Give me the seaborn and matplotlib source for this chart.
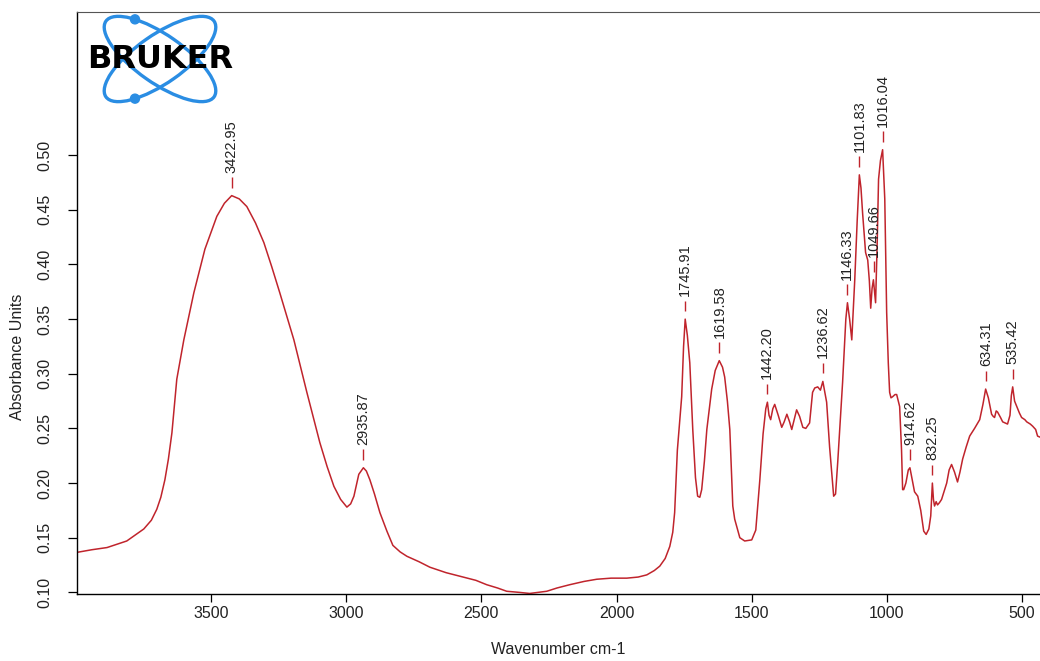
import numpy as np
import pandas as pd
import matplotlib
matplotlib.use("Agg")
import matplotlib.pyplot as plt
from matplotlib.patches import Ellipse, Circle
import seaborn as sns

# ---------------- data ----------------
wavenumber = [
    3995, 3940, 3884, 3811, 3748, 3720, 3700, 3685, 3670, 3657, 3644, 3626, 3600,
    3563, 3522, 3478, 3450, 3423, 3395, 3367, 3335, 3304, 3275, 3245, 3193, 3145,
    3097, 3070, 3045, 3020, 2997, 2983, 2971, 2953, 2936, 2925, 2912, 2895, 2875,
    2849, 2827, 2800, 2775, 2730, 2690, 2630, 2568, 2520, 2480, 2440, 2406, 2360,
    2321, 2290, 2258, 2220, 2173, 2120, 2073, 2020, 1962, 1920, 1888, 1860, 1840,
    1820, 1803, 1792, 1785, 1775, 1759, 1752, 1746, 1738, 1729, 1718, 1708, 1700,
    1692, 1685, 1675, 1666, 1648, 1635, 1620, 1608, 1600, 1590, 1581, 1570, 1563,
    1544, 1526, 1500, 1485, 1470, 1458, 1448, 1442, 1436, 1430, 1422, 1415, 1402,
    1389, 1380, 1370, 1360, 1352, 1343, 1334, 1323, 1311, 1300, 1286, 1275, 1267,
    1256, 1246, 1237, 1223, 1212, 1197, 1190, 1182, 1164, 1152, 1146, 1138, 1130,
    1119, 1110, 1102, 1096, 1090, 1079, 1071, 1065, 1060, 1055, 1050, 1046, 1042,
    1036, 1031, 1024, 1016, 1008, 1001, 995, 990, 985, 979, 970, 964, 953, 946,
    942, 938, 930, 921, 915, 908, 898, 886, 875, 864, 855, 845, 838, 832, 828,
    824, 818, 813, 806, 798, 789, 779, 770, 761, 750, 739, 730, 720, 707, 694,
    676, 657, 645, 635, 625, 613, 607, 602, 596, 591, 580, 572, 563, 554, 545,
    540, 535, 528, 520, 510, 502, 490, 483, 470, 461, 450, 443, 434,
]
absorbance = [
    0.1366, 0.139, 0.141, 0.147, 0.158, 0.166, 0.176, 0.187, 0.203, 0.222, 0.246, 0.295, 0.331,
    0.374, 0.414, 0.444, 0.456, 0.463, 0.460, 0.453, 0.438, 0.420, 0.398, 0.374, 0.331, 0.283,
    0.237, 0.215, 0.197, 0.185, 0.178, 0.181, 0.188, 0.208, 0.214, 0.211, 0.203, 0.190, 0.173,
    0.156, 0.143, 0.137, 0.133, 0.128, 0.123, 0.118, 0.114, 0.111, 0.107, 0.104, 0.101, 0.100,
    0.099, 0.100, 0.101, 0.104, 0.107, 0.110, 0.112, 0.113, 0.113, 0.114, 0.116, 0.120, 0.124,
    0.131, 0.142, 0.155, 0.173, 0.230, 0.279, 0.325, 0.350, 0.335, 0.310, 0.249, 0.205, 0.188,
    0.187, 0.194, 0.220, 0.249, 0.286, 0.303, 0.312, 0.306, 0.297, 0.275, 0.249, 0.179, 0.167,
    0.150, 0.147, 0.148, 0.157, 0.203, 0.245, 0.268, 0.274, 0.262, 0.258, 0.268, 0.272, 0.262,
    0.251, 0.256, 0.263, 0.256, 0.249, 0.258, 0.267, 0.261, 0.251, 0.250, 0.255, 0.283, 0.287,
    0.288, 0.285, 0.293, 0.274, 0.233, 0.188, 0.190, 0.219, 0.292, 0.350, 0.365, 0.350, 0.331,
    0.386, 0.440, 0.482, 0.470, 0.447, 0.411, 0.404, 0.385, 0.360, 0.378, 0.386, 0.375, 0.365,
    0.420, 0.478, 0.495, 0.505, 0.460, 0.356, 0.310, 0.283, 0.278, 0.279, 0.281, 0.281, 0.270, 0.230,
    0.194, 0.194, 0.200, 0.212, 0.214, 0.205, 0.192, 0.188, 0.175, 0.156, 0.153, 0.158, 0.170, 0.200, 0.185,
    0.179, 0.183, 0.180, 0.182, 0.185, 0.192, 0.200, 0.212, 0.217, 0.210, 0.201, 0.210, 0.222, 0.233, 0.243,
    0.250, 0.258, 0.272, 0.286, 0.278, 0.263, 0.261, 0.260, 0.266, 0.265, 0.260, 0.256, 0.255, 0.254, 0.262,
    0.280, 0.288, 0.275, 0.270, 0.264, 0.260, 0.258, 0.256, 0.254, 0.252, 0.249, 0.243, 0.242,
]

peak_wn = [3422.95, 2935.87, 1745.91, 1619.58, 1442.20, 1236.62, 1146.33,
           1101.83, 1049.66, 1016.04, 914.62, 832.25, 634.31, 535.42]
peak_abs = [0.463, 0.214, 0.350, 0.312, 0.274, 0.293, 0.365,
            0.482, 0.386, 0.505, 0.214, 0.200, 0.286, 0.288]

y_ticks = [0.10, 0.15, 0.20, 0.25, 0.30, 0.35, 0.40, 0.45, 0.50]
x_ticks = [3500, 3000, 2500, 2000, 1500, 1000, 500]

# ---------------- styling ----------------
sns.set_theme(style="white")
plt.rcParams["font.family"] = ["Liberation Sans", "DejaVu Sans"]

W, H = 1040, 661
fig = plt.figure(figsize=(W / 100, H / 100), dpi=100)
fig.patch.set_facecolor("white")

left_px, top_px, bottom_px = 77, 12, 594
ax = fig.add_axes([left_px / W, 1 - bottom_px / H, 1 - left_px / W,
                   (bottom_px - top_px) / H])
ax.set_facecolor("white")

line_color = "#c0242c"
df = pd.DataFrame({"Wavenumber": wavenumber, "Absorbance": absorbance})
sns.lineplot(data=df, x="Wavenumber", y="Absorbance", sort=False,
             estimator=None, color=line_color, linewidth=1.1, ax=ax)

ax.set_xlim(3995, 434)
ax.set_ylim(0.0985, 0.631)

ax.set_xticks(x_ticks)
ax.set_xticklabels([str(t) for t in x_ticks])
ax.set_yticks(y_ticks)
ax.set_yticklabels([f"{t:.2f}" for t in y_ticks], rotation=90, va="center")

ax.tick_params(axis="y", direction="out", length=6.5, width=0.9, color="black",
               pad=11, labelsize=11.5, labelcolor="#222222", left=True)
ax.tick_params(axis="x", direction="out", length=6, width=0.9, color="black",
               pad=3, labelsize=11.5, labelcolor="#222222", bottom=True)

for s in ["left", "bottom"]:
    ax.spines[s].set_color("black")
    ax.spines[s].set_linewidth(1.0)
ax.spines["top"].set_color("#555555")
ax.spines["top"].set_linewidth(0.8)
ax.spines["right"].set_visible(False)

ax.set_xlabel("Wavenumber cm-1", fontsize=11.5, color="#222222")
ax.set_ylabel("Absorbance Units", fontsize=11.5, color="#222222")
ax.xaxis.label.set_va("center")
ax.yaxis.label.set_va("center")
ax.xaxis.set_label_coords(0.5, (bottom_px - 650) / (bottom_px - top_px))
ax.yaxis.set_label_coords((18 - left_px) / (W - left_px), (bottom_px - 357) / (bottom_px - top_px))

# peak annotations
for w, a in zip(peak_wn, peak_abs):
    ax.vlines(w, a + 0.0073, a + 0.0168, color=line_color, linewidth=1.0)
    ax.text(w, a + 0.021, f"{w:.2f}", rotation=90, ha="center", va="bottom",
            fontsize=10.5, color="#222222")

# ---------------- logo ----------------
ov = fig.add_axes([0, 0, 1, 1])
ov.set_xlim(0, W)
ov.set_ylim(H, 0)
ov.axis("off")
ov.patch.set_alpha(0)
blue = "#2a8de3"
cx, cy, a_, b_ = 160, 59, 66, 24
for ang in (35, -35):
    ov.add_patch(Ellipse((cx, cy), 2 * a_, 2 * b_, angle=ang, fill=False,
                         edgecolor=blue, linewidth=2.4))
t = np.linspace(0, 2 * np.pi, 2000)
for ang, want_top in ((35, True), (-35, False)):
    r = np.deg2rad(ang)
    ex = cx + a_ * np.cos(t) * np.cos(r) - b_ * np.sin(t) * np.sin(r)
    ey = cy + a_ * np.cos(t) * np.sin(r) + b_ * np.sin(t) * np.cos(r)
    mask = (ey < cy) if want_top else (ey > cy)
    idx = np.where(mask)[0]
    k = idx[np.argmin(np.abs(ex[idx] - 135))]
    ov.add_patch(Circle((ex[k], ey[k]), 4.5, color=blue))
ov.text(cx, cy + 1, "BRUKER", ha="center", va="center", fontsize=23,
        fontweight="heavy", family="DejaVu Sans", color="black")

fig.savefig("out.png", dpi=100, facecolor="white")
